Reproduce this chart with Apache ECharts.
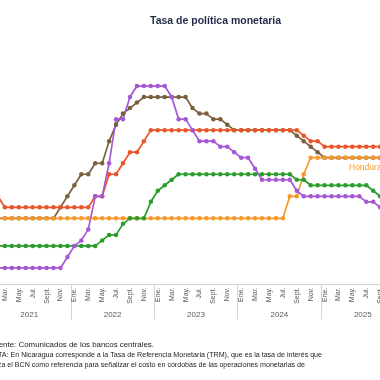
<!DOCTYPE html>
<html>
<head>
<meta charset="utf-8">
<script src="https://cdn.jsdelivr.net/npm/echarts@6/dist/echarts.min.js"></script>
<style>
html,body{margin:0;padding:0;background:#fff;overflow:hidden;}
#chart{width:380px;height:380px;}
</style>
</head>
<body>
<div id="chart"></div>
<script>
// Month labels (Jan 2021 .. Dec 2025)
const monthNames = ['Ene.','Feb.','Mar.','Abr.','May.','Jun.','Jul.','Ago.','Sept.','Oct.','Nov.','Dic.'];
const years = ['2021','2022','2023','2024','2025'];
const categories = [];
years.forEach(function(y){ monthNames.forEach(function(m){ categories.push(m); }); });

// Series values (monthly, Jan 2021 .. Sep 2025)
const dominicana = [3.0,3.0,3.0,3.0,3.0,3.0,3.0,3.0,3.0,3.0,3.5,4.0,
  4.5,5.0,5.0,5.5,5.5,6.5,7.25,7.75,8.0,8.25,8.5,8.5,
  8.5,8.5,8.5,8.5,8.5,8.0,7.75,7.75,7.5,7.5,7.25,7.0,
  7.0,7.0,7.0,7.0,7.0,7.0,7.0,7.0,6.75,6.5,6.25,6.0,
  5.75,5.75,5.75,5.75,5.75,5.75,5.75,5.75,5.75];
const nicaragua = [4.0,4.0,3.5,3.5,3.5,3.5,3.5,3.5,3.5,3.5,3.5,3.5,
  3.5,3.5,3.5,4.0,4.0,5.0,5.0,5.5,6.0,6.0,6.5,7.0,
  7.0,7.0,7.0,7.0,7.0,7.0,7.0,7.0,7.0,7.0,7.0,7.0,
  7.0,7.0,7.0,7.0,7.0,7.0,7.0,7.0,7.0,6.75,6.5,6.5,
  6.25,6.25,6.25,6.25,6.25,6.25,6.25,6.25,6.25];
const honduras = [3.0,3.0,3.0,3.0,3.0,3.0,3.0,3.0,3.0,3.0,3.0,3.0,
  3.0,3.0,3.0,3.0,3.0,3.0,3.0,3.0,3.0,3.0,3.0,3.0,
  3.0,3.0,3.0,3.0,3.0,3.0,3.0,3.0,3.0,3.0,3.0,3.0,
  3.0,3.0,3.0,3.0,3.0,3.0,3.0,4.0,4.0,5.0,5.75,5.75,
  5.75,5.75,5.75,5.75,5.75,5.75,5.75,5.75,5.75];
const guatemala = [1.75,1.75,1.75,1.75,1.75,1.75,1.75,1.75,1.75,1.75,1.75,1.75,
  1.75,1.75,1.75,1.75,2.0,2.25,2.25,2.75,3.0,3.0,3.0,3.75,
  4.25,4.5,4.75,5.0,5.0,5.0,5.0,5.0,5.0,5.0,5.0,5.0,
  5.0,5.0,5.0,5.0,5.0,5.0,5.0,5.0,4.75,4.75,4.5,4.5,
  4.5,4.5,4.5,4.5,4.5,4.5,4.5,4.25,4.0];
const costaRica = [0.75,0.75,0.75,0.75,0.75,0.75,0.75,0.75,0.75,0.75,0.75,1.25,
  1.75,2.0,2.5,4.0,4.0,5.5,7.5,7.5,8.5,9.0,9.0,9.0,
  9.0,9.0,8.5,7.5,7.5,7.0,6.5,6.5,6.5,6.25,6.25,6.0,
  5.75,5.75,5.25,4.75,4.75,4.75,4.75,4.75,4.25,4.0,4.0,4.0,
  4.0,4.0,4.0,4.0,4.0,4.0,3.75,3.75,3.5];

const COLORS = {dom:'#7a5f3e', nic:'#e8572b', hon:'#f7982a', gua:'#2a9e2c', cr:'#a557d6'};

function mk(name, data, color){
  return {
    name: name, type: 'line', data: data, xAxisIndex: 0,
    symbol: 'circle', symbolSize: 4.5, showSymbol: true,
    lineStyle: {color: color, width: 1.7},
    itemStyle: {color: color},
    emphasis: {disabled: true}, animation: false
  };
}

const chart = echarts.init(document.getElementById('chart'), null, {renderer: 'canvas'});
chart.setOption({
  animation: false,
  grid: {left: -12.5, top: 64, width: 417, height: 220.5, containLabel: false, outerBoundsMode: 'none'},
  xAxis: [
    {
      type: 'category', data: categories, boundaryGap: true,
      axisLine: {lineStyle: {color: '#d4d4d4', width: 1}},
      axisTick: {show: true, interval: function(i){ return i % 12 === 0; }, length: 35, lineStyle: {color: '#d4d4d4'}},
      axisLabel: {interval: 1, rotate: 90, fontSize: 7, color: '#595959', margin: 3, fontFamily: 'Liberation Sans'}
    },
    {
      type: 'category', data: years, position: 'bottom', offset: 22,
      axisLine: {show: false}, axisTick: {show: false},
      axisLabel: {fontSize: 8, color: '#595959', margin: 4, fontFamily: 'Liberation Sans'}
    }
  ],
  yAxis: {type: 'value', min: 0, max: 10, show: false, splitLine: {show: false}},
  series: [
    mk('República Dominicana', dominicana, COLORS.dom),
    mk('Nicaragua', nicaragua, COLORS.nic),
    mk('Honduras', honduras, COLORS.hon),
    mk('Guatemala', guatemala, COLORS.gua),
    mk('Costa Rica', costaRica, COLORS.cr)
  ],
  graphic: [
    {type: 'text', left: 150, top: 16, style: {text: 'Tasa de política monetaria', fontSize: 10.5, fontWeight: 'bold', fill: '#1f2b47', fontFamily: 'Liberation Sans'}},
    {type: 'text', x: 349, y: 163, style: {text: 'Honduras', fontSize: 8.5, fill: '#f7982a', fontFamily: 'Liberation Sans'}},
    {type: 'text', x: 154, y: 341, style: {text: 'Fuente: Comunicados de los bancos centrales.', fontSize: 7.9, fill: '#222', textAlign: 'right', fontFamily: 'Liberation Sans'}},
    {type: 'text', x: 322, y: 352, style: {text: 'NOTA: En Nicaragua corresponde a la Tasa de Referencia Monetaria (TRM), que es la tasa de interés que', fontSize: 7.1, fill: '#222', textAlign: 'right', fontFamily: 'Liberation Sans'}},
    {type: 'text', x: 305, y: 362, style: {text: 'utiliza el BCN como referencia para señalizar el costo en córdobas de las operaciones monetarias de', fontSize: 7.1, fill: '#222', textAlign: 'right', fontFamily: 'Liberation Sans'}}
  ]
});
</script>
</body>
</html>
